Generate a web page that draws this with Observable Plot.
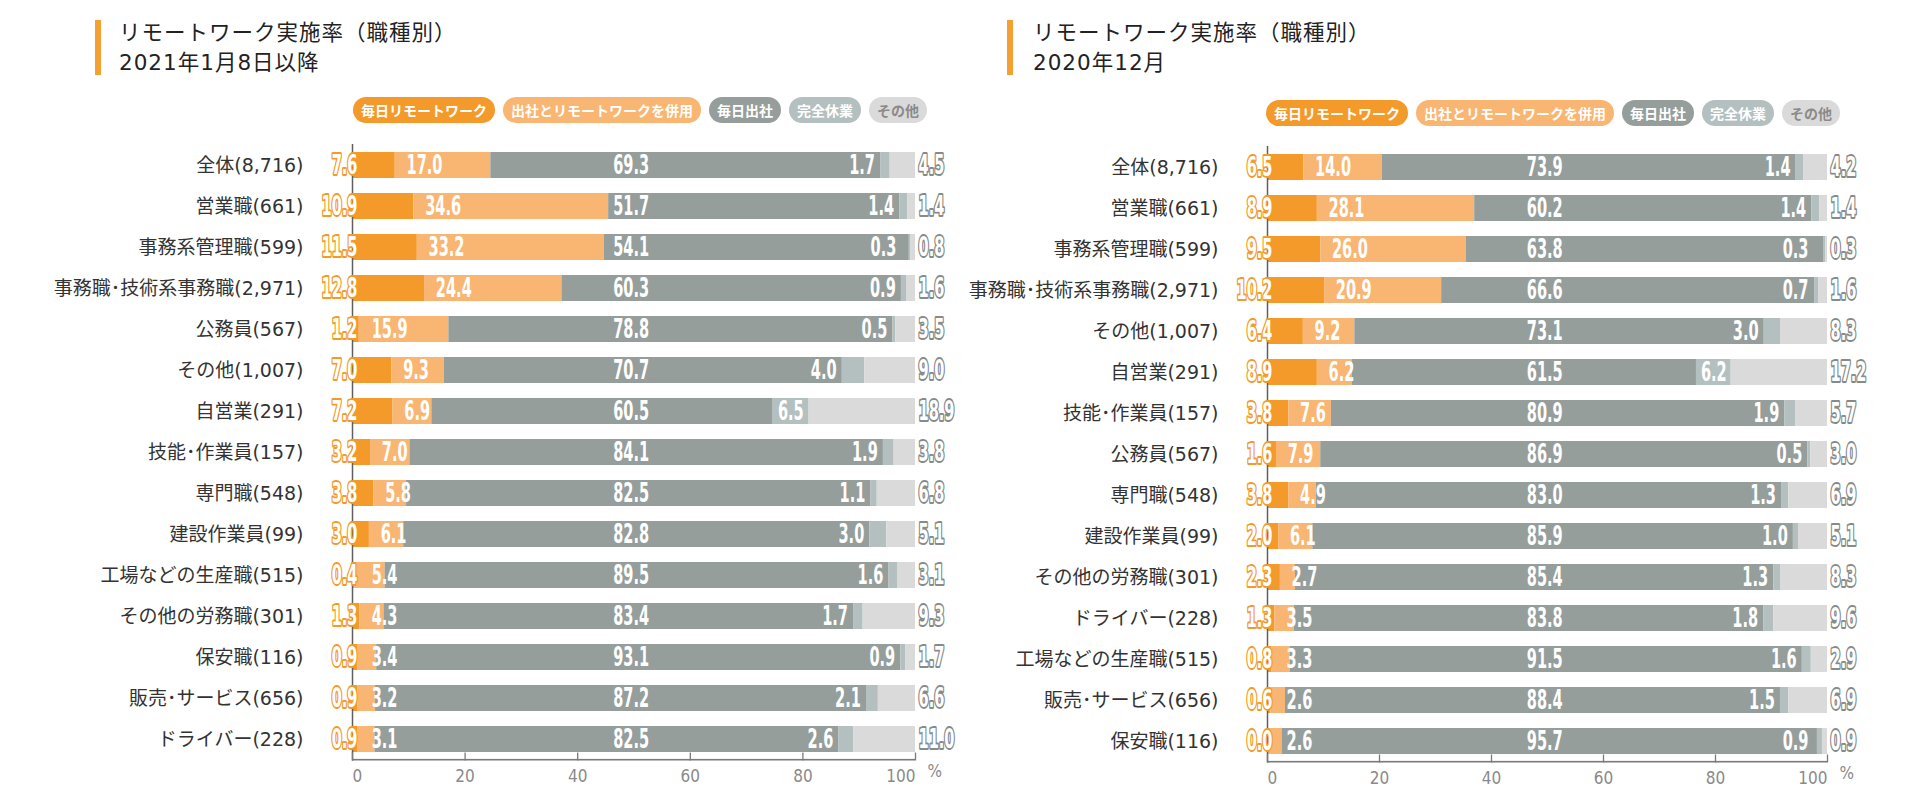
<!DOCTYPE html>
<html><head><meta charset="utf-8">
<script src="https://cdn.jsdelivr.net/npm/d3@7"></script>
<script src="https://cdn.jsdelivr.net/npm/@observablehq/plot@0.6"></script>
<style>
body{margin:0;background:#fff;width:1920px;height:802px;overflow:hidden;font-family:"Noto Sans CJK JP","Noto Sans",sans-serif;}
.chart{position:absolute;top:0;width:960px;height:802px;}
.tbar{position:absolute;top:20px;width:6px;height:55px;background:#F5A033;}
.title{position:absolute;top:18px;font-family:"DejaVu Sans","Noto Sans CJK JP",sans-serif;font-size:21.5px;font-weight:400;letter-spacing:1px;line-height:30px;color:#222;white-space:nowrap;}
.legend{position:absolute;top:97px;display:flex;gap:8px;}
.pill{height:26px;line-height:26px;border-radius:13px;padding:0 8px;font-size:14px;font-weight:700;color:#fff;white-space:nowrap;}
</style></head><body>
<div id="root"></div>
<script>
// ---- data ----
const seriesNames = ["毎日リモートワーク", "出社とリモートワークを併用", "毎日出社", "完全休業", "その他"];
const xTicks = [0, 20, 40, 60, 80, 100];

const titleMain = "リモートワーク実施率（職種別）";
const subtitleL = "2021年1月8日以降";
const subtitleR = "2020年12月";

const catsL = ["全体(8,716)", "営業職(661)", "事務系管理職(599)", "事務職･技術系事務職(2,971)", "公務員(567)", "その他(1,007)", "自営業(291)", "技能･作業員(157)", "専門職(548)", "建設作業員(99)", "工場などの生産職(515)", "その他の労務職(301)", "保安職(116)", "販売･サービス(656)", "ドライバー(228)"];
const remoteL = [7.6, 10.9, 11.5, 12.8, 1.2, 7.0, 7.2, 3.2, 3.8, 3.0, 0.4, 1.3, 0.9, 0.9, 0.9];
const mixedL  = [17.0, 34.6, 33.2, 24.4, 15.9, 9.3, 6.9, 7.0, 5.8, 6.1, 5.4, 4.3, 3.4, 3.2, 3.1];
const officeL = [69.3, 51.7, 54.1, 60.3, 78.8, 70.7, 60.5, 84.1, 82.5, 82.8, 89.5, 83.4, 93.1, 87.2, 82.5];
const leaveL  = [1.7, 1.4, 0.3, 0.9, 0.5, 4.0, 6.5, 1.9, 1.1, 3.0, 1.6, 1.7, 0.9, 2.1, 2.6];
const otherL  = [4.5, 1.4, 0.8, 1.6, 3.5, 9.0, 18.9, 3.8, 6.8, 5.1, 3.1, 9.3, 1.7, 6.6, 11.0];

const catsR = ["全体(8,716)", "営業職(661)", "事務系管理職(599)", "事務職･技術系事務職(2,971)", "その他(1,007)", "自営業(291)", "技能･作業員(157)", "公務員(567)", "専門職(548)", "建設作業員(99)", "その他の労務職(301)", "ドライバー(228)", "工場などの生産職(515)", "販売･サービス(656)", "保安職(116)"];
const remoteR = [6.5, 8.9, 9.5, 10.2, 6.4, 8.9, 3.8, 1.6, 3.8, 2.0, 2.3, 1.3, 0.8, 0.6, 0.0];
const mixedR  = [14.0, 28.1, 26.0, 20.9, 9.2, 6.2, 7.6, 7.9, 4.9, 6.1, 2.7, 3.5, 3.3, 2.6, 2.6];
const officeR = [73.9, 60.2, 63.8, 66.6, 73.1, 61.5, 80.9, 86.9, 83.0, 85.9, 85.4, 83.8, 91.5, 88.4, 95.7];
const leaveR  = [1.4, 1.4, 0.3, 0.7, 3.0, 6.2, 1.9, 0.5, 1.3, 1.0, 1.3, 1.8, 1.6, 1.5, 0.9];
const otherR  = [4.2, 1.4, 0.3, 1.6, 8.3, 17.2, 5.7, 3.0, 6.9, 5.1, 8.3, 9.6, 2.9, 6.9, 0.9];

// ---- styles ----
const colors = ["#F39A2B", "#F9B572", "#959E9B", "#B4BFBF", "#DADADA"];
const pillText = ["#fff", "#fff", "#fff", "#fff", "#8a8a8a"];
const labelFont = '"Liberation Sans Narrow", "DejaVu Sans Condensed", sans-serif';
const rowFont = '"DejaVu Sans", "Noto Sans CJK JP", sans-serif';

const fmt = d3.format(".1f");

function buildTables(cats, vals) {
  const segs = [];
  const L = {a: [], b: [], c: [], dIn: [], dOut: [], e: []};
  cats.forEach((cat, i) => {
    const v = vals.map(a => a[i]);
    const sum = d3.sum(v);
    let cum = 0;
    const st = v.map(d => { const s = cum; cum += d; return s * 100 / sum; });
    const w = v.map(d => d * 100 / sum);
    v.forEach((d, k) => segs.push({cat, series: seriesNames[k], x1: st[k], x2: st[k] + w[k]}));
    L.a.push({cat, x: 0, text: fmt(v[0])});
    L.b.push({cat, x: Math.max(st[1] + 2, 3.4), text: fmt(v[1])});
    L.c.push({cat, x: 46.3, text: fmt(v[2])});
    if (v[3] >= 5) L.dIn.push({cat, x: st[3] + w[3] / 2, text: fmt(v[3])});
    else L.dOut.push({cat, x: Math.min(st[3] - 1.0, 96.6), text: fmt(v[3])});
    L.e.push({cat, x: 100, text: fmt(v[4])});
  });
  return {segs, L};
}

function makeChart(cfg) {
  const root = document.getElementById("root");
  const box = document.createElement("div");
  box.className = "chart";
  box.style.left = cfg.left + "px";
  root.appendChild(box);

  const bar = document.createElement("div");
  bar.className = "tbar"; bar.style.left = cfg.barX + "px";
  box.appendChild(bar);
  const title = document.createElement("div");
  title.className = "title"; title.style.left = cfg.titleX + "px";
  title.innerHTML = `<div>${titleMain}</div><div>${cfg.subtitle}</div>`;
  box.appendChild(title);

  const legend = document.createElement("div");
  legend.className = "legend"; legend.style.right = cfg.legendRight + "px";
  legend.style.top = cfg.legendTop + "px";
  seriesNames.forEach((n, k) => {
    const p = document.createElement("div");
    p.className = "pill"; p.textContent = n;
    p.style.background = colors[k]; p.style.color = pillText[k];
    legend.appendChild(p);
  });
  box.appendChild(legend);

  const {segs, L} = buildTables(cfg.cats, cfg.vals);
  const W = 960, H = 672, MT = 14, MB = 41.5;
  const frameH = H - MT - MB;
  const xDomain = [xTicks[0], xTicks[xTicks.length - 1]];
  const midTicks = xTicks.slice(1, -1);
  const lab = (data, o) => Plot.text(data, {x: "x", y: "cat", text: "text", fontFamily: labelFont, fontWeight: 700, fontSize: 27, fill: "#fff", ariaDescription: "vlabel", ...o});
  const tickText = {tickSize: 0, tickPadding: 9, fontSize: 17, fontFamily: labelFont, fill: "#8a8a8a", tickFormat: d => String(d), label: null};

  const svg = Plot.plot({
    width: W, height: H,
    marginLeft: cfg.marginLeft, marginRight: cfg.marginRight, marginTop: MT, marginBottom: MB,
    style: {fontFamily: rowFont, background: "transparent", overflow: "visible"},
    x: {domain: xDomain, axis: null},
    y: {domain: cfg.cats, paddingInner: 0.367, paddingOuter: 0.1835, axis: null},
    color: {domain: seriesNames, range: colors},
    marks: [
      Plot.barX(segs, {x1: "x1", x2: "x2", y: "cat", fill: "series"}),
      Plot.ruleX([xDomain[0]], {stroke: "#5f5f5f", strokeWidth: 1.5}),
      Plot.barX([xDomain], {x1: d => d[0], x2: d => d[1], insetTop: frameH - 1.6, fill: "#7a7a7a"}),
      Plot.ruleX(xTicks, {stroke: "#7a7a7a", strokeWidth: 1.3, insetTop: frameH - 8}),
      Plot.axisX({...tickText, ticks: [xDomain[0]], textAnchor: "start"}),
      Plot.axisX({...tickText, ticks: midTicks}),
      Plot.axisX({...tickText, ticks: [xDomain[1]], textAnchor: "end"}),
      Plot.axisY({tickSize: 0, tickPadding: 49, fontSize: 19, fill: "#333", label: null}),
      Plot.text(["%"], {x: () => xDomain[1], frameAnchor: "bottom", dx: 12, dy: 15.5, text: d => d, fontFamily: labelFont, fontSize: 17, fill: "#8a8a8a", textAnchor: "start"}),
      lab(L.a, {textAnchor: "end", dx: 5, stroke: "#F39A2B", strokeWidth: 3.8}),
      lab(L.b, {textAnchor: "start"}),
      lab(L.c, {textAnchor: "start"}),
      lab(L.dIn, {textAnchor: "middle"}),
      lab(L.dOut, {textAnchor: "end"}),
      lab(L.e, {textAnchor: "start", dx: 3, stroke: "#858B8A", strokeWidth: 3.8})
    ]
  });
  // condense value labels horizontally
  svg.querySelectorAll('g[aria-description="vlabel"] text').forEach(t => {
    let tr = t.getAttribute("transform");
    if (!tr) {
      const x = t.getAttribute("x") || 0, y = t.getAttribute("y") || 0;
      t.removeAttribute("x");
      tr = `translate(${x},${/em$/.test(y) ? 0 : y})`;
      if (/em$/.test(y)) t.setAttribute("y", y); else t.removeAttribute("y");
    }
    t.setAttribute("transform", tr + " scale(0.6,1)");
  });
  svg.style.position = "absolute";
  svg.style.top = cfg.svgTop + "px";
  svg.style.left = "0px";
  box.appendChild(svg);
}

makeChart({left: 0, barX: 95, titleX: 119, subtitle: subtitleL, legendRight: 33, legendTop: 97, svgTop: 130,
  marginLeft: 352, marginRight: 45, cats: catsL, vals: [remoteL, mixedL, officeL, leaveL, otherL]});
makeChart({left: 960, barX: 47, titleX: 73, subtitle: subtitleR, legendRight: 80, legendTop: 100, svgTop: 132,
  marginLeft: 307, marginRight: 93, cats: catsR, vals: [remoteR, mixedR, officeR, leaveR, otherR]});
</script>
</body></html>
